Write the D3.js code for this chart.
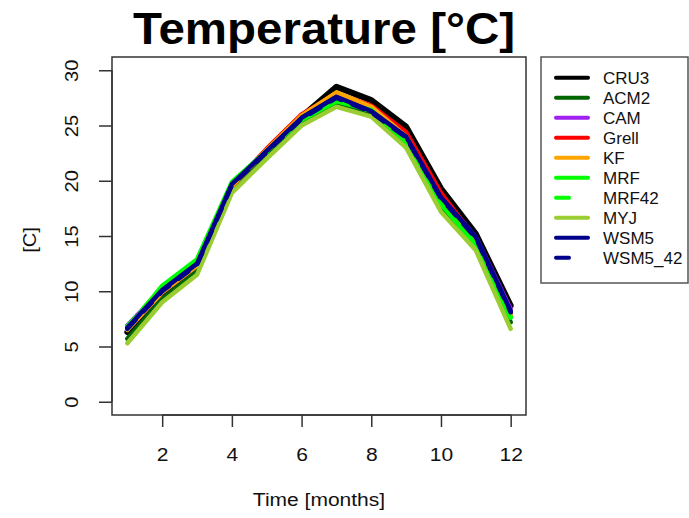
<!DOCTYPE html>
<html><head><meta charset="utf-8">
<script src="https://cdn.jsdelivr.net/npm/d3@7"></script>
<style>body{margin:0;background:#fff}svg{display:block}text{font-family:"Liberation Sans",Arial,sans-serif}</style>
</head><body><div id="chart"></div>
<script>
const months = [1,2,3,4,5,6,7,8,9,10,11,12];
const seriesNames = ["CRU3","ACM2","CAM","Grell","KF","MRF","MRF42","MYJ","WSM5","WSM5_42"];
const seriesColors = ["#000000","#006400","#a020f0","#ff0000","#ffa500","#00ff00","#00ff00","#9acd32","#00008b","#00008b"];
const seriesDashed = [false,false,false,false,false,false,true,false,false,true];
const CRU3   = [6.3, 9.8, 12.3, 19.4, 22.6, 25.8, 28.5, 27.3, 24.9, 19.3, 15.2, 8.7];
const ACM2   = [5.7, 9.3, 11.8, 19.1, 22.2, 25.2, 27.0, 26.0, 23.4, 17.6, 14.3, 7.2];
const CAM    = [6.9, 10.2, 12.5, 19.6, 22.7, 25.7, 27.8, 26.5, 24.1, 18.7, 14.9, 8.4];
const Grell  = [6.6, 10.0, 12.4, 19.5, 22.9, 26.0, 27.9, 26.8, 24.4, 18.9, 14.7, 8.0];
const KF     = [6.5, 9.9, 12.3, 19.5, 22.8, 25.9, 28.0, 26.7, 24.0, 18.3, 14.5, 7.8];
const MRF    = [6.6, 10.5, 12.9, 19.9, 22.7, 25.5, 27.2, 26.4, 23.5, 17.9, 14.2, 7.6];
const MRF42  = [6.8, 10.4, 12.8, 19.8, 22.6, 25.6, 27.3, 26.3, 23.6, 18.0, 14.3, 7.7];
const MYJ    = [5.3, 9.0, 11.5, 18.9, 22.0, 25.0, 26.7, 25.8, 23.0, 17.2, 13.7, 6.6];
const WSM5   = [6.7, 10.1, 12.5, 19.7, 22.7, 25.7, 27.6, 26.3, 24.0, 18.5, 14.9, 8.2];
const WSM5_42= [6.6, 10.0, 12.4, 19.6, 22.6, 25.6, 27.5, 26.2, 23.9, 18.4, 14.8, 8.1];
const seriesValues = [CRU3,ACM2,CAM,Grell,KF,MRF,MRF42,MYJ,WSM5,WSM5_42];
const xTicks = [2,4,6,8,10,12];
const yTicks = [0,5,10,15,20,25,30];

const W = 689, H = 518;
const svg = d3.select("#chart").append("svg").attr("width", W).attr("height", H);
const plot = {left:112, right:526, top:57, bottom:415};
const x = d3.scaleLinear().domain([0.56, 12.44]).range([plot.left, plot.right]);
const y = d3.scaleLinear().domain([-1.2, 31.2]).range([plot.bottom, plot.top]);

function widen(sel, f) {
  sel.each(function(){ const w = this.getComputedTextLength(); d3.select(this).attr("textLength", w*f).attr("lengthAdjust","spacingAndGlyphs"); });
}

// lines
const line = d3.line().x((d,i)=>x(months[i])).y(d=>y(d)).curve(d3.curveLinear);
const g = svg.append("g");
seriesValues.forEach((vals, k) => {
  g.append("path").datum(vals).attr("d", line)
    .attr("fill","none").attr("stroke", seriesColors[k])
    .attr("stroke-width", k===0 ? 6 : 4.5)
    .attr("stroke-linejoin","round").attr("stroke-linecap","round")
    .attr("stroke-dasharray", seriesDashed[k] ? "12,12" : null);
});

// box
svg.append("rect").attr("x", plot.left).attr("y", plot.top)
  .attr("width", plot.right-plot.left).attr("height", plot.bottom-plot.top)
  .attr("fill","none").attr("stroke","#333").attr("stroke-width",1.5);

// x axis
const xAxis = d3.axisBottom(x).tickValues(xTicks).tickSize(12).tickPadding(22).tickFormat(d3.format("d"));
const gx = svg.append("g").attr("transform",`translate(0,${plot.bottom})`).call(xAxis);
gx.select(".domain").attr("d", `M${x(2)},0H${x(12)}`).attr("stroke","#333").attr("stroke-width",1.5);
gx.selectAll(".tick line").attr("stroke","#333").attr("stroke-width",1.5);
gx.selectAll(".tick text").attr("font-size",17.5).attr("fill","#111").attr("font-family","Liberation Sans, Arial, sans-serif");
widen(gx.selectAll(".tick text"), 1.2);

// y axis
const yAxis = d3.axisLeft(y).tickValues(yTicks).tickSize(13).tickPadding(0).tickFormat(d3.format("d"));
const gy = svg.append("g").attr("transform",`translate(${plot.left},0)`).call(yAxis);
gy.select(".domain").attr("d", `M0,${y(0)}V${y(30)}`).attr("stroke","#333").attr("stroke-width",1.5);
gy.selectAll(".tick line").attr("stroke","#333").attr("stroke-width",1.5);
gy.selectAll(".tick text").attr("font-size",17.5).attr("fill","#111")
  .attr("font-family","Liberation Sans, Arial, sans-serif")
  .attr("text-anchor","middle").attr("x",0).attr("dy",0)
  .attr("transform","translate(-39,0) rotate(-90)").attr("dominant-baseline","middle");
widen(gy.selectAll(".tick text"), 1.15);

// titles
svg.append("text").attr("x", 324).attr("y", 44).attr("text-anchor","middle")
  .attr("font-size", 45).attr("font-weight","bold").attr("fill","#000")
  .attr("textLength", 382).attr("lengthAdjust","spacingAndGlyphs")
  .text("Temperature [°C]");
const xt = svg.append("text").attr("x", (plot.left+plot.right)/2).attr("y", 506).attr("text-anchor","middle")
  .attr("font-size",17.5).attr("fill","#111").text("Time [months]");
widen(xt, 1.2);
const yt = svg.append("text").attr("transform","translate(36,240) rotate(-90)").attr("text-anchor","middle")
  .attr("font-size",17.5).attr("fill","#111").text("[C]");
widen(yt, 1.15);

// legend
const lg = svg.append("g");
lg.append("rect").attr("x",541).attr("y",57).attr("width",147).attr("height",226)
  .attr("fill","#fff").attr("stroke","#555").attr("stroke-width",1.5);
seriesNames.forEach((name,k) => {
  const yy = 77.7 + 20*k;
  lg.append("line").attr("x1",556).attr("x2", seriesDashed[k] ? 569 : 588)
    .attr("y1",yy).attr("y2",yy).attr("stroke",seriesColors[k]).attr("stroke-width",4)
    .attr("stroke-linecap","round");
  lg.append("text").attr("x",603).attr("y",yy).attr("dy","0.35em")
    .attr("font-size",17).attr("fill","#111").text(name);
});
</script></body></html>
